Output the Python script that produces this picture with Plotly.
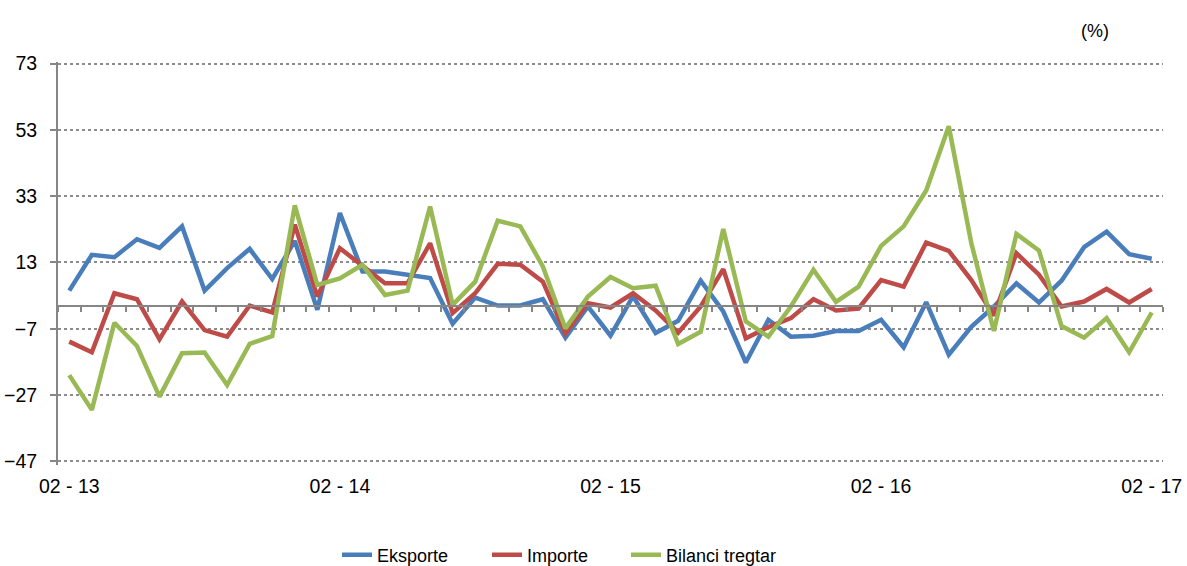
import plotly.graph_objects as go

years = ["13", "14", "15", "16", "17"]
months = ["01", "02", "03", "04", "05", "06", "07", "08", "09", "10", "11", "12"]
categories = []
for yi, yy in enumerate(years):
    for m in months:
        if (yi == 0 and m == "01") or (yy == "17" and m not in ("01", "02")):
            continue
        categories.append(f"{m} - {yy}")
categories = categories[:49]

eksporte = [4.5, 15.3, 14.6, 20.0, 17.4, 23.9, 4.5, 11.3, 17.1, 8.0, 19.5, -1.3, 27.9,
            10.3, 10.3, 9.3, 8.3, -5.5, 2.4, 0.0, 0.0, 1.9, -9.7, -0.3, -9.1, 2.8, -8.3,
            -4.6, 7.5, -1.8, -17.2, -4.3, -9.4, -9.1, -7.7, -7.7, -4.3, -12.6, 1.0, -14.8,
            -6.4, -0.3, 6.7, 0.9, 7.5, 17.6, 22.3, 15.5, 14.1]
importe = [-10.9, -14.1, 3.7, 1.9, -10.2, 1.2, -7.4, -9.4, 0.0, -2.1, 24.4, 2.7, 17.3,
           11.8, 6.7, 6.7, 18.8, -2.3, 3.7, 12.6, 12.3, 7.2, -8.4, 0.7, -0.6, 3.7, -1.5,
           -8.2, -0.3, 11.0, -9.9, -6.5, -3.8, 1.9, -1.5, -0.9, 7.7, 5.7, 19.0, 16.5,
           7.7, -3.0, 15.8, 9.3, -0.3, 1.2, 5.0, 0.9, 5.0]
bilanci = [-21.0, -31.5, -5.2, -12.2, -27.5, -14.4, -14.2, -24.0, -11.6, -9.2, 30.2, 6.2, 8.2,
           12.3, 3.2, 4.5, 29.9, 0.2, 7.2, 25.6, 23.9, 11.8, -6.9, 2.7, 8.6, 5.2, 6.0,
           -11.6, -7.9, 23.1, -4.8, -9.4, -0.3, 10.8, 1.1, 5.7, 18.0, 23.9, 34.7, 54.1,
           18.8, -7.7, 21.6, 16.6, -6.2, -9.7, -3.8, -14.1, -2.1]

y_ticks = [73, 53, 33, 13, -7, -27, -47]
y_range = [-48.13, 73.5]
x_label_idx = [0, 12, 24, 36, 48]

font_family = "Liberation Sans, Arial, sans-serif"
W, H = 1187, 566

fig = go.Figure()
series = [("Eksporte", eksporte, "#4A7EBB", "legend", 379),
          ("Importe", importe, "#BE4B48", "legend2", 529),
          ("Bilanci tregtar", bilanci, "#98B954", "legend3", 668)]
for name, vals, col, lg, _ in series:
    fig.add_trace(go.Scatter(x=categories, y=vals, name=name, mode="lines",
                             line=dict(color=col, width=4.5), legend=lg))

# invisible trace on the zero-crossing axis
fig.add_trace(go.Scatter(x=categories, y=[None] * len(categories), xaxis="x2",
                         showlegend=False, hoverinfo="skip", mode="lines"))

zero_pos = (0 - y_range[0]) / (y_range[1] - y_range[0])

legends = {}
for name, vals, col, lg, text_x in series:
    legends[lg] = dict(orientation="h", x=(text_x - 42) / W, xanchor="left",
                       xref="container", y=(H - 555) / H, yanchor="middle",
                       yref="container", font=dict(size=18, color="black"),
                       bgcolor="rgba(0,0,0,0)")

fig.update_layout(
    width=W, height=H,
    margin=dict(l=58, r=24, t=62, b=101, autoexpand=False),
    paper_bgcolor="white", plot_bgcolor="white",
    font=dict(family=font_family, size=16, color="black"),
    showlegend=True,
    **legends,
    xaxis=dict(type="category", categoryorder="array", categoryarray=categories,
               range=[-0.5, len(categories) - 0.5], automargin=False,
               tickmode="array", tickvals=[categories[i] for i in x_label_idx],
               ticktext=[categories[i] for i in x_label_idx],
               showgrid=False, showline=False, ticks="", zeroline=False,
               tickfont=dict(size=19.5), ticklabelstandoff=7),
    xaxis2=dict(type="category", categoryorder="array", categoryarray=categories,
                range=[-0.5, len(categories) - 0.5], overlaying="x", anchor="free",
                position=zero_pos, side="bottom", showline=True, linecolor="#868686",
                linewidth=2, ticks="outside", tickson="boundaries", ticklen=5,
                tickwidth=1.5, tickcolor="#868686", showticklabels=False,
                showgrid=False, zeroline=False, automargin=False),
    yaxis=dict(range=y_range, tickmode="array", tickvals=y_ticks, automargin=False,
               showgrid=True, gridcolor="#8C8C8C", griddash="dot", gridwidth=1.5,
               showline=True, linecolor="#868686", linewidth=2, ticks="outside",
               ticklen=6, tickcolor="#868686", tickwidth=1.5, zeroline=False,
               tickfont=dict(size=19.5), ticklabelstandoff=9),
    annotations=[dict(text="(%)", xref="paper", yref="paper", x=(1095 - 58) / (1163 - 58),
                      y=1.0, yshift=31, xanchor="center", yanchor="middle", showarrow=False,
                      font=dict(size=18))],
)

fig.write_html("out.html", config={"displayModeBar": False},
               post_script="document.body.style.margin='0px';")
